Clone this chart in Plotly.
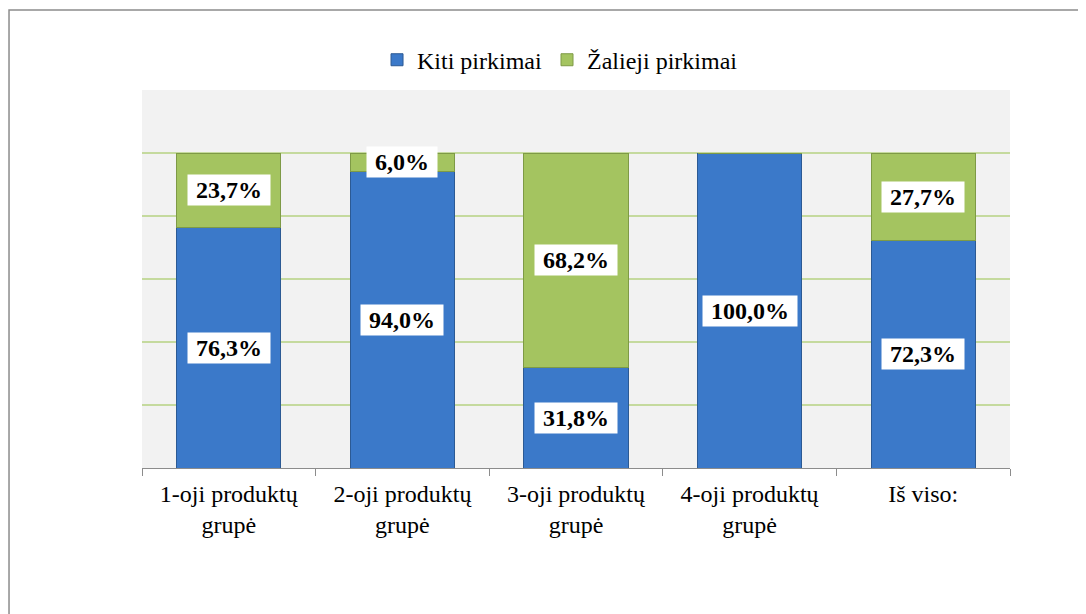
import plotly.graph_objects as go

categories = ["1-oji produktų<br>grupė", "2-oji produktų<br>grupė", "3-oji produktų<br>grupė",
              "4-oji produktų<br>grupė", "Iš viso:"]
kiti = [76.3, 94.0, 31.8, 100.0, 72.3]
zalieji = [23.7, 6.0, 68.2, 0.0, 27.7]
series_names = ["Kiti pirkimai", "Žalieji pirkimai"]

FONT = "Liberation Serif, Times New Roman, serif"

fig = go.Figure()
fig.add_bar(x=categories, y=kiti, name=series_names[0],
            marker=dict(color="#3B79C9", line=dict(color="#2C5A94", width=1)))
fig.add_bar(x=categories, y=zalieji, name=series_names[1],
            marker=dict(color="#A4C460", line=dict(color="#7E9A46", width=1)))

def fmt(v):
    return f"{v:.1f}%".replace(".", ",")

NB = "\u00a0"
for cat, k, z in zip(categories, kiti, zalieji):
    if k > 0:
        fig.add_annotation(x=cat, y=k / 2, text=f"<b>{NB}{fmt(k)}{NB}</b>", showarrow=False,
                           bgcolor="white", borderpad=2,
                           font=dict(family=FONT, size=24, color="black"))
    if z > 0:
        fig.add_annotation(x=cat, y=k + z / 2, text=f"<b>{NB}{fmt(z)}{NB}</b>", showarrow=False,
                           bgcolor="white", borderpad=2,
                           font=dict(family=FONT, size=24, color="black"))

# outer frame
fig.add_shape(type="rect", xref="paper", yref="paper",
              x0=-0.1532, x1=1.1, y0=-0.42, y1=1.2116,
              line=dict(color="#8C8C8C", width=1.5), fillcolor="rgba(0,0,0,0)", layer="below")

fig.update_layout(
    barmode="stack",
    bargap=0.4,
    width=1078, height=606,
    margin=dict(l=134, r=76, t=82, b=146),
    paper_bgcolor="white",
    plot_bgcolor="#F2F2F2",
    font=dict(family=FONT, size=24, color="black"),
    showlegend=True,
    legend=dict(orientation="h", x=0.4816, xanchor="center", y=1.079, yanchor="middle",
                traceorder="normal",
                font=dict(family=FONT, size=24), itemwidth=30, tracegroupgap=0,
                bgcolor="rgba(0,0,0,0)"),
    xaxis=dict(showline=True, linecolor="#8C8C8C", linewidth=1, ticks="outside",
               tickson="boundaries", ticklen=7, tickcolor="#8C8C8C",
               ticklabelstandoff=4,
               tickfont=dict(family=FONT, size=24, color="black"), showgrid=False),
    yaxis=dict(range=[0, 120], dtick=20, showticklabels=False, showgrid=True,
               gridcolor="#C5DA9E", gridwidth=2, zeroline=False, showline=False),
)

fig.write_html("out.html")
